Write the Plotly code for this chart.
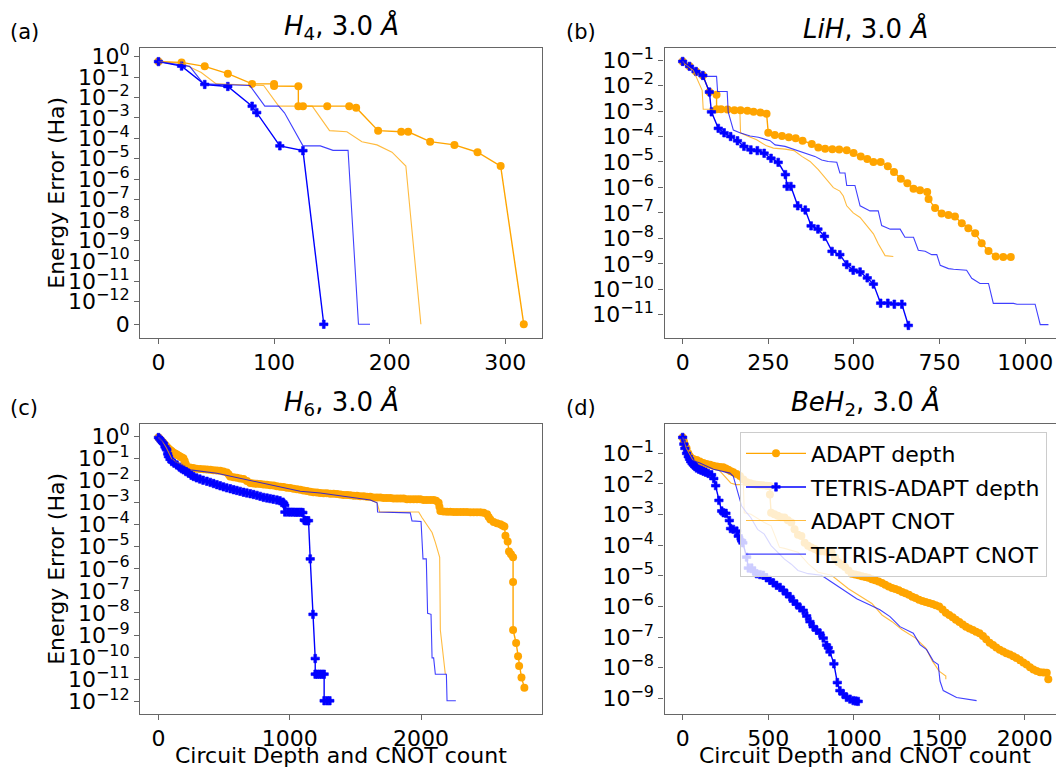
import math
import plotly.graph_objects as go

ORANGE = "#ffa500"
BLUE = "#0000ff"
FONT = "DejaVu Sans"
W, H = 1056, 768

# ---------------- (a) H4, 3.0 A ----------------
A_ADAPT_DEPTH_X = [0, 20, 40, 60, 81, 100, 100, 121, 121, 125, 146, 165, 171, 190, 210, 216, 235, 256, 276, 296, 316]
A_ADAPT_DEPTH_Y = [0.58, 0.53, 0.34, 0.149, 0.047, 0.047, 0.037, 0.036, 0.0038, 0.0038, 0.0038, 0.0038, 0.0032,
                   2.4e-4, 2.1e-4, 2.1e-4, 6.9e-5, 4.8e-5, 2.1e-5, 4.4e-6, 0]
A_TETRIS_DEPTH_X = [0, 20, 40, 60, 81, 85, 105, 125, 143]
A_TETRIS_DEPTH_Y = [0.58, 0.35, 0.044, 0.035, 0.0038, 0.00184, 4.3e-5, 2.5e-5, 0]
A_ADAPT_CNOT_X = [0, 20, 37, 50, 91, 104, 133, 148, 163, 176, 189, 202, 214, 227]
A_ADAPT_CNOT_Y = [0.58, 0.49, 0.17, 0.047, 0.039, 0.0038, 0.0038, 2.4e-4, 2.1e-4, 6.9e-5, 4.8e-5, 2.1e-5, 4.4e-6, 0]
A_TETRIS_CNOT_X = [0, 27, 39, 79, 92, 104, 109, 125, 140, 151, 164, 173, 183]
A_TETRIS_CNOT_Y = [0.58, 0.34, 0.047, 0.039, 0.0038, 0.0038, 0.0018, 4.3e-5, 4.3e-5, 2.6e-5, 2.6e-5, 0, 0]

# ---------------- (b) LiH, 3.0 A ----------------
B_ADAPT_DEPTH_X = [0, 20, 39, 59, 78, 99, 99, 112, 131, 151, 169, 189, 207, 227, 245, 250, 269, 290, 310, 330,
                   350, 377, 396, 416, 437, 457, 479, 499, 520, 539, 557, 578, 599, 617, 637, 656, 674, 693, 714,
                   718, 737, 756, 776, 795, 815, 834, 854, 873, 893, 914, 936, 958]
B_ADAPT_DEPTH_Y = [0.089, 0.057, 0.036, 0.025, 0.0056, 0.0044, 0.00117, 0.00117, 0.00115, 0.00107, 0.00107, 0.00102,
                   9.3e-4, 8.7e-4, 7.9e-4, 1.4e-4, 1.15e-4, 1.05e-4, 9.3e-5, 8.5e-5, 6.9e-5, 5.1e-5, 3.7e-5, 3.3e-5,
                   3.2e-5, 3.1e-5, 2.9e-5, 2.25e-5, 1.66e-5, 1.3e-5, 1.0e-5, 1.0e-5, 6.8e-6, 4.0e-6, 2.2e-6, 1.45e-6,
                   8.9e-7, 7.7e-7, 6.6e-7, 3.5e-7, 1.55e-7, 9.5e-8, 8.2e-8, 7.2e-8, 3.9e-8, 2.5e-8, 1.6e-8, 6.5e-9,
                   3.2e-9, 1.95e-9, 1.86e-9, 1.86e-9]
B_TETRIS_DEPTH_X = [0, 20, 39, 59, 78, 84, 104, 121, 140, 160, 179, 199, 218, 238, 258, 279, 300, 305, 316, 336,
                    358, 375, 395, 414, 436, 459, 479, 498, 518, 539, 557, 578, 599, 618, 640, 659]
B_TETRIS_DEPTH_Y = [0.089, 0.057, 0.036, 0.025, 0.0056, 9.3e-4, 2.1e-4, 1.4e-4, 1.0e-4, 6.8e-5, 4.1e-5, 3.0e-5,
                    2.8e-5, 2.2e-5, 1.4e-5, 9.7e-6, 3.2e-6, 1.1e-6, 1.1e-6, 1.9e-7, 1.3e-7, 3.1e-8, 2.3e-8, 1.2e-8,
                    3.1e-9, 2.3e-9, 9.3e-10, 5.6e-10, 4.8e-10, 2.8e-10, 1.6e-10, 2.85e-11, 2.85e-11, 2.6e-11,
                    2.6e-11, 3.8e-12]
B_ADAPT_CNOT_X = [0, 8, 31, 57, 60, 85, 167, 169, 189, 216, 245, 265, 299, 325, 348, 372, 396, 416, 440, 459, 469,
                  479, 498, 518, 537, 557, 571, 591, 615]
B_ADAPT_CNOT_Y = [0.089, 0.07, 0.04, 0.0065, 0.00118, 0.00118, 0.00107, 1.4e-4, 1.05e-4, 7.4e-5, 4.3e-5, 3.5e-5,
                  3.2e-5, 2.8e-5, 1.66e-5, 1.05e-5, 5.0e-6, 2.4e-6, 9.8e-7, 7.2e-7, 4.6e-7, 1.9e-7, 1.0e-7, 6.6e-8,
                  3.1e-8, 1.5e-8, 6.1e-9, 2.1e-9, 1.95e-9]
B_TETRIS_CNOT_X = [0, 60, 99, 102, 130, 133, 148, 167, 197, 221, 255, 270, 299, 323, 348, 372, 386, 406, 425, 450,
                   459, 474, 479, 503, 518, 547, 571, 581, 606, 635, 649, 674, 688, 708, 727, 742, 752, 776, 791,
                   829, 844, 868, 893, 907, 966, 976, 1029, 1044, 1068]
B_TETRIS_CNOT_Y = [0.089, 0.023, 0.023, 0.0059, 0.0059, 9.3e-4, 1.8e-4, 1.4e-4, 1.05e-4, 9.3e-5, 6.9e-5, 4.7e-5,
                   4.1e-5, 3.2e-5, 2.6e-5, 1.9e-5, 1.66e-5, 1.2e-5, 1.05e-5, 9.7e-6, 3.7e-6, 3.7e-6, 1.2e-6, 1.2e-6,
                   1.9e-7, 1.2e-7, 1.2e-7, 3.2e-8, 2.3e-8, 2.3e-8, 1.1e-8, 1.1e-8, 3.4e-9, 3.1e-9, 2.3e-9, 2.3e-9,
                   8.7e-10, 6.5e-10, 6.1e-10, 5.6e-10, 2.7e-10, 1.7e-10, 1.7e-10, 2.8e-11, 2.8e-11, 2.6e-11,
                   2.6e-11, 4.1e-12, 4.1e-12]

# ---------------- (c) H6, 3.0 A ----------------
C_ADAPT_DEPTH_X = [0, 12, 25, 38, 52, 64, 76, 90, 102, 114, 127, 140, 152, 165, 178, 190, 200, 208, 216, 240,
                   265, 290, 318, 345, 370, 395, 420, 445, 470, 495, 521, 534, 546, 572, 597, 622, 648, 674, 699, 725,
                   750, 776, 801, 826, 852, 877, 902, 928, 953, 978, 1004, 1029, 1055, 1080, 1105, 1131, 1156, 1181,
                   1207, 1232, 1258, 1283, 1309, 1334, 1360, 1385, 1410, 1436, 1461, 1487, 1512, 1537, 1563, 1588,
                   1613, 1639, 1664, 1690, 1715, 1740, 1766, 1791, 1817, 1842, 1867, 1893, 1918, 1944, 1969, 1994,
                   2020, 2045, 2071, 2096, 2115, 2134, 2140, 2147, 2172, 2198, 2223, 2249, 2274, 2300, 2325, 2350,
                   2376, 2401, 2426, 2452, 2477, 2503, 2515, 2528, 2553, 2578, 2604, 2620, 2635, 2643, 2660, 2670,
                   2685, 2701, 2701, 2701, 2724, 2739, 2747, 2765, 2787]
C_ADAPT_DEPTH_Y = [0.87, 0.72, 0.6, 0.5, 0.4, 0.33, 0.28, 0.24, 0.21, 0.18, 0.165, 0.15, 0.135, 0.12, 0.11, 0.1,
                   0.075, 0.055, 0.04, 0.038, 0.036, 0.034, 0.033, 0.032, 0.031, 0.03, 0.029, 0.028, 0.027, 0.025,
                   0.023, 0.019, 0.015, 0.014, 0.013, 0.0122, 0.0115, 0.0095, 0.0076, 0.0073, 0.007, 0.0068, 0.0066,
                   0.0064, 0.0061, 0.0058, 0.0055, 0.0052, 0.005, 0.0047, 0.0045, 0.0042, 0.004, 0.0038, 0.0035,
                   0.0033, 0.0031, 0.0029, 0.0028, 0.0027, 0.0026, 0.0026, 0.0025, 0.0025, 0.0024, 0.0023, 0.0022,
                   0.0022, 0.0021, 0.002, 0.002, 0.0019, 0.0019, 0.0018, 0.0018, 0.0017, 0.0017, 0.0017, 0.0016,
                   0.0016, 0.0016, 0.0015, 0.0015, 0.0015, 0.0015, 0.0014, 0.0014, 0.0014, 0.0014, 0.0014, 0.0013,
                   0.0013, 0.0013, 0.0013, 0.0012, 9.7e-4, 6.5e-4, 4.1e-4, 3.9e-4, 3.8e-4, 3.8e-4, 3.7e-4, 3.7e-4,
                   3.7e-4, 3.7e-4, 3.7e-4, 3.6e-4, 3.6e-4, 3.6e-4, 3.6e-4, 3.4e-4, 2.9e-4, 2.2e-4, 1.7e-4, 1.3e-4,
                   1.15e-4, 1.03e-4, 9.2e-5, 8.1e-5, 3.1e-5, 1.7e-5, 6e-6, 4.5e-6, 3.3e-6, 2.5e-7, 1.7e-9, 4.4e-10,
                   1.1e-10, 4.0e-11, 1.2e-11, 4.2e-12]
C_TETRIS_DEPTH_X = [0, 10, 20, 30, 38, 50, 58, 64, 70, 76, 88, 102, 120, 140, 160, 175, 191, 210, 230, 250, 267,
                    290, 315, 340, 369, 395, 420, 445, 470, 495, 520, 547, 572, 597, 622, 648, 673, 699, 724, 750,
                    775, 800, 826, 850, 875, 902, 925, 948, 955, 962, 963, 985, 1005, 1025, 1045, 1065, 1085, 1100,
                    1110, 1118, 1130, 1143, 1156, 1177, 1194, 1194, 1210, 1228, 1245, 1262, 1262, 1285, 1305]
C_TETRIS_DEPTH_Y = [0.87, 0.75, 0.62, 0.53, 0.47, 0.33, 0.27, 0.24, 0.16, 0.12, 0.09, 0.071, 0.06, 0.05, 0.04,
                    0.034, 0.03, 0.025, 0.021, 0.017, 0.015, 0.013, 0.0115, 0.0102, 0.0091, 0.0081, 0.0072, 0.0064,
                    0.0057, 0.0051, 0.0046, 0.0042, 0.0038, 0.0035, 0.0032, 0.0029, 0.0027, 0.0025, 0.0023, 0.0021,
                    0.0019, 0.0017, 0.0016, 0.0015, 0.0014, 0.0013, 0.0012, 0.00104, 9e-4, 7.4e-4, 3.7e-4, 3.7e-4,
                    3.65e-4, 3.65e-4, 3.6e-4, 3.6e-4, 3.6e-4, 3.5e-4, 1.6e-4, 1.5e-4, 1.5e-4, 1.5e-4, 2.8e-6, 8.7e-9,
                    8.7e-11, 1.7e-11, 1.7e-11, 1.7e-11, 1.7e-11, 1.7e-11, 1.07e-12, 1.07e-12, 1.07e-12]
C_ADAPT_CNOT_X = [0, 30, 60, 100, 130, 200, 300, 420, 520, 560, 650, 700, 800, 900, 1000, 1080, 1334, 1588, 1665,
                  1685, 1982, 2007, 2045, 2084, 2109, 2142, 2147, 2168, 2185]
C_ADAPT_CNOT_Y = [0.87, 0.6, 0.3, 0.1, 0.07, 0.045, 0.035, 0.03, 0.025, 0.016, 0.012, 0.009, 0.007, 0.0055, 0.0042,
                  0.0029, 0.0019, 0.0015, 9.7e-4, 3.7e-4, 3.7e-4, 2.1e-4, 1.03e-4, 4.4e-5, 1.56e-5, 3.3e-6, 1.7e-9,
                  1.3e-10, 1.7e-11]
C_TETRIS_CNOT_X = [0, 40, 70, 100, 110, 150, 242, 445, 699, 953, 1080, 1232, 1614, 1665, 1669, 1918, 1931, 2000,
                   2015, 2040, 2050, 2076, 2084, 2096, 2109, 2193, 2198, 2265]
C_TETRIS_CNOT_Y = [0.87, 0.55, 0.35, 0.15, 0.08, 0.06, 0.03, 0.021, 0.01, 0.0049, 0.0032, 0.0027, 0.0013, 9.7e-4,
                   3.7e-4, 3.4e-4, 1.47e-4, 1.37e-4, 2.8e-6, 2.8e-6, 9.7e-9, 8.7e-9, 9.3e-11, 9.3e-11, 1.7e-11,
                   1.7e-11, 1.07e-12, 1.07e-12]

# ---------------- (d) BeH2, 3.0 A ----------------
D_ADAPT_DEPTH_X = [0, 8, 15, 23, 33, 42, 52, 65, 82, 100, 121, 140, 160, 179, 200, 218, 237, 252, 267, 282, 296,
                   315, 335, 355, 374, 395, 415, 432, 450, 470, 491, 510, 510, 517, 536, 556, 575, 595, 615, 635,
                   654, 674, 694, 713, 733, 752, 772, 792, 811, 831, 851, 870, 890, 910, 930, 949, 969, 988, 1008,
                   1027, 1047, 1067, 1086, 1106, 1125, 1145, 1165, 1184, 1204, 1224, 1243, 1263, 1283, 1302, 1322,
                   1342, 1361, 1381, 1401, 1420, 1440, 1460, 1479, 1499, 1519, 1538, 1558, 1578, 1597, 1617, 1637,
                   1656, 1676, 1696, 1715, 1735, 1755, 1774, 1794, 1814, 1833, 1853, 1873, 1892, 1912, 1932, 1951,
                   1971, 1991, 2010, 2030, 2050, 2069, 2089, 2109, 2128, 2137]
D_ADAPT_DEPTH_Y = [0.33, 0.24, 0.18, 0.145, 0.1, 0.08, 0.069, 0.064, 0.06, 0.054, 0.048, 0.045, 0.042, 0.039,
                   0.037, 0.036, 0.035, 0.032, 0.029, 0.026, 0.024, 0.021, 0.018, 0.014, 0.0113, 0.0105, 0.0098,
                   0.0095, 0.0092, 0.009, 0.0088, 0.0085, 0.0045, 0.00115, 0.00103, 9.1e-4, 8.2e-4, 8.0e-4, 6.5e-4,
                   5.5e-4, 3.3e-4, 2.2e-4, 2.0e-4, 1.2e-4, 9.7e-5, 8.5e-5, 7.5e-5, 6.6e-5, 6.4e-5, 6.3e-5, 6.0e-5,
                   5.9e-5, 4.0e-5, 2.8e-5, 2.3e-5, 1.95e-5, 1.5e-5, 1.18e-5, 1.1e-5, 1.05e-5, 9.8e-6, 9.1e-6,
                   8.6e-6, 7.8e-6, 7.2e-6, 6.6e-6, 5.9e-6, 5.1e-6, 4.5e-6, 4.0e-6, 3.7e-6, 3.4e-6, 3.0e-6, 2.7e-6,
                   2.4e-6, 2.1e-6, 1.9e-6, 1.65e-6, 1.5e-6, 1.4e-6, 1.3e-6, 1.2e-6, 1.1e-6, 1.0e-6, 8.0e-7, 6.3e-7,
                   5.3e-7, 4.5e-7, 3.7e-7, 3.1e-7, 2.6e-7, 2.2e-7, 1.9e-7, 1.7e-7, 1.5e-7, 1.35e-7, 1.1e-7, 8.5e-8,
                   6.6e-8, 5.5e-8, 4.6e-8, 3.9e-8, 3.4e-8, 3.0e-8, 2.7e-8, 2.4e-8, 2.1e-8, 1.8e-8, 1.5e-8, 1.28e-8,
                   1.05e-8, 8.8e-9, 7.8e-9, 7.2e-9, 7.0e-9, 6.9e-9, 4.2e-9]
D_TETRIS_DEPTH_X = [0, 7, 13, 23, 33, 40, 47, 55, 62, 72, 82, 95, 108, 121, 135, 150, 169, 182, 193, 212, 228,
                    238, 253, 273, 280, 296, 316, 325, 345, 352, 374, 384, 403, 418, 432, 452, 471, 490, 510, 530,
                    549, 569, 588, 608, 627, 647, 666, 686, 705, 725, 744, 763, 783, 802, 822, 841, 851, 861, 884,
                    904, 919, 938, 958, 978, 997, 1012, 1026]
D_TETRIS_DEPTH_Y = [0.33, 0.2, 0.145, 0.1, 0.078, 0.065, 0.054, 0.047, 0.042, 0.037, 0.033, 0.03, 0.028, 0.026,
                    0.024, 0.022, 0.02, 0.015, 0.0088, 0.0029, 0.00131, 0.00115, 0.0011, 6.4e-4, 3.5e-4, 3.3e-4,
                    2.9e-4, 2.0e-4, 1.4e-4, 1.2e-4, 4.1e-5, 1.8e-5, 1.8e-5, 1.4e-5, 1.18e-5, 1.1e-5, 1.05e-5, 8.7e-6,
                    7.2e-6, 5.9e-6, 4.9e-6, 4.2e-6, 3.4e-6, 2.6e-6, 2.1e-6, 1.5e-6, 1.2e-6, 9e-7, 7.5e-7, 4.9e-7,
                    3.2e-7, 2.2e-7, 1.7e-7, 1.35e-7, 9.3e-8, 5.5e-8, 4.5e-8, 3.3e-8, 1.35e-8, 3.3e-9, 1.8e-9, 1.4e-9,
                    1.08e-9, 9.5e-10, 8.5e-10, 8.2e-10, 8.0e-10]
D_ADAPT_CNOT_X = [0, 20, 60, 120, 202, 281, 310, 355, 360, 399, 477, 517, 566, 595, 674, 733, 792, 870, 969, 1067,
                  1106, 1165, 1224, 1283, 1361, 1420, 1460, 1499, 1538, 1538]
D_ADAPT_CNOT_Y = [0.33, 0.15, 0.06, 0.045, 0.033, 0.0108, 0.0095, 0.0095, 0.00115, 0.00103, 5.5e-4, 4.3e-4,
                  8.5e-5, 7.9e-5, 5.9e-5, 2.5e-5, 1.32e-5, 1.05e-5, 3.8e-6, 1.8e-6, 1.26e-6, 5.3e-7, 3.2e-7,
                  1.74e-7, 9.3e-8, 4.5e-8, 1.65e-8, 7.8e-9, 5.4e-9, 4.2e-9]
D_TETRIS_CNOT_X = [0, 15, 50, 101, 180, 276, 296, 325, 345, 374, 399, 438, 477, 517, 556, 595, 635, 674, 733, 811,
                   870, 958, 1017, 1095, 1153, 1212, 1270, 1348, 1387, 1426, 1465, 1494, 1504, 1523, 1601, 1718]
D_TETRIS_CNOT_Y = [0.33, 0.14, 0.06, 0.048, 0.03, 0.0226, 0.0177, 0.0045, 0.0019, 0.00115, 7.9e-4, 3.3e-4,
                   2.3e-4, 9.7e-5, 5.9e-5, 3.5e-5, 2.4e-5, 1.5e-5, 1.18e-5, 1.05e-5, 6.3e-6, 3.0e-6, 1.8e-6,
                   1.12e-6, 7.8e-7, 4.7e-7, 2.2e-7, 1.35e-7, 5.7e-8, 3.9e-8, 1.65e-8, 1.28e-8, 3.7e-9, 1.8e-9,
                   1.07e-9, 8.5e-10]

SERIES_NAMES = ["ADAPT depth", "TETRIS-ADAPT depth", "ADAPT CNOT", "TETRIS-ADAPT CNOT"]

# symmetric-log scale used on the H4 panel (linear below 1e-12 so that 0 fits)
LINTHRESH = 1e-12
LIN_DECADES = 1.0 / (1.0 - 0.1)


def symlog(values):
    out = []
    for v in values:
        if v >= LINTHRESH:
            out.append(math.log10(v))
        else:
            out.append(math.log10(LINTHRESH) - LIN_DECADES * (1.0 - v / LINTHRESH))
    return out


def pow_label(k):
    exp = str(k).replace("-", "\u2212")
    return "10<sup><span style='font-size:16px'>%s</span></sup>" % exp


panels = [
    dict(key="", series=[(A_ADAPT_DEPTH_X, A_ADAPT_DEPTH_Y), (A_TETRIS_DEPTH_X, A_TETRIS_DEPTH_Y),
                         (A_ADAPT_CNOT_X, A_ADAPT_CNOT_Y), (A_TETRIS_CNOT_X, A_TETRIS_CNOT_Y)], symlog=True),
    dict(key="2", series=[(B_ADAPT_DEPTH_X, B_ADAPT_DEPTH_Y), (B_TETRIS_DEPTH_X, B_TETRIS_DEPTH_Y),
                          (B_ADAPT_CNOT_X, B_ADAPT_CNOT_Y), (B_TETRIS_CNOT_X, B_TETRIS_CNOT_Y)], symlog=False),
    dict(key="3", series=[(C_ADAPT_DEPTH_X, C_ADAPT_DEPTH_Y), (C_TETRIS_DEPTH_X, C_TETRIS_DEPTH_Y),
                          (C_ADAPT_CNOT_X, C_ADAPT_CNOT_Y), (C_TETRIS_CNOT_X, C_TETRIS_CNOT_Y)], symlog=False),
    dict(key="4", series=[(D_ADAPT_DEPTH_X, D_ADAPT_DEPTH_Y), (D_TETRIS_DEPTH_X, D_TETRIS_DEPTH_Y),
                          (D_ADAPT_CNOT_X, D_ADAPT_CNOT_Y), (D_TETRIS_CNOT_X, D_TETRIS_CNOT_Y)], symlog=False),
]

styles = [
    dict(mode="lines+markers", line=dict(color=ORANGE, width=1.4),
         marker=dict(symbol="circle", size=8, color=ORANGE, line=dict(width=0)), opacity=1.0),
    dict(mode="lines+markers", line=dict(color=BLUE, width=1.4),
         marker=dict(symbol="cross", size=7, color=BLUE, line=dict(width=0.6, color=BLUE)), opacity=1.0),
    dict(mode="lines", line=dict(color=ORANGE, width=1.1), opacity=0.75),
    dict(mode="lines", line=dict(color=BLUE, width=1.1), opacity=0.75),
]

fig = go.Figure()
for pi, p in enumerate(panels):
    for si, (xs, ys) in enumerate(p["series"]):
        yv = symlog(ys) if p["symlog"] else ys
        fig.add_trace(go.Scatter(
            x=xs, y=yv, name=SERIES_NAMES[si],
            xaxis="x" + p["key"], yaxis="y" + p["key"],
            showlegend=(pi == 3), legendgroup=SERIES_NAMES[si],
            **styles[si]))


def px_x(v):
    return v / W


def px_y(v):
    return 1 - v / H


LEFT_DOM = [px_x(140.2), px_x(541.7)]
RIGHT_DOM = [px_x(664.5), 1.0]
TOP_DOM = [px_y(333.3), px_y(40.7)]
BOT_DOM = [px_y(713.3), px_y(420.7)]

SPINE = "#666666"
axis_common = dict(showline=True, linecolor=SPINE, linewidth=1.2, ticks="outside", ticklen=5, tickwidth=1.2,
                   tickcolor=SPINE, showgrid=False, zeroline=False,
                   tickfont=dict(family=FONT, size=22, color="black"))
x_common = dict(axis_common, mirror=True)

a_ticks = list(range(0, -13, -1))
a_tickvals = a_ticks + symlog([0])
a_ticktext = [pow_label(k) for k in a_ticks] + ["0"]

b_ticks = list(range(-1, -12, -1))
c_ticks = list(range(0, -13, -1))
d_ticks = list(range(-1, -10, -1))

fig.update_layout(
    width=W, height=H, margin=dict(l=0, r=0, t=0, b=0),
    paper_bgcolor="white", plot_bgcolor="white",
    font=dict(family=FONT, color="black"),
    xaxis=dict(domain=LEFT_DOM, anchor="y", range=[-15.8, 331.5], tickvals=[0, 100, 200, 300], **x_common),
    yaxis=dict(domain=TOP_DOM, anchor="x", range=[-13.775, 0.417], tickvals=a_tickvals, ticktext=a_ticktext,
               mirror=True, **axis_common),
    xaxis2=dict(domain=RIGHT_DOM, anchor="y2", range=[-53, 1090], tickvals=[0, 250, 500, 750, 1000], **x_common),
    yaxis2=dict(domain=TOP_DOM, anchor="x2", type="log", range=[-11.906, -0.534],
                tickvals=[10.0 ** k for k in b_ticks], ticktext=[pow_label(k) for k in b_ticks], mirror=False,
                **axis_common),
    xaxis3=dict(domain=LEFT_DOM, anchor="y3", range=[-139, 2919], tickvals=[0, 1000, 2000], **x_common),
    yaxis3=dict(domain=BOT_DOM, anchor="x3", type="log", range=[-12.564, 0.537],
                tickvals=[10.0 ** k for k in c_ticks], ticktext=[pow_label(k) for k in c_ticks], mirror=True,
                **axis_common),
    xaxis4=dict(domain=RIGHT_DOM, anchor="y4", range=[-106, 2182], tickvals=[0, 500, 1000, 1500, 2000],
                **x_common),
    yaxis4=dict(domain=BOT_DOM, anchor="x4", type="log", range=[-9.504, -0.054],
                tickvals=[10.0 ** k for k in d_ticks], ticktext=[pow_label(k) for k in d_ticks], mirror=False,
                **axis_common),
    legend=dict(x=px_x(740), y=px_y(428), xanchor="left", yanchor="top",
                bgcolor="rgba(255,255,255,0.8)", bordercolor="#cccccc", borderwidth=1,
                font=dict(family=FONT, size=22, color="black"), traceorder="grouped", tracegroupgap=2,
                itemwidth=60),
)

annotations = []
# panel letters
for label, x, y in [("(a)", 8, 24), ("(b)", 564, 24), ("(c)", 8, 404), ("(d)", 564, 404)]:
    annotations.append(dict(text=label, x=px_x(x), y=px_y(y), xref="paper", yref="paper", xanchor="left",
                            yanchor="middle", showarrow=False, font=dict(family=FONT, size=21)))
# subplot titles
titles = [
    ("<i>H</i><sub>4</sub>, 3.0 <i>\u00c5</i>", 341, 40.7),
    ("<i>LiH</i>, 3.0 <i>\u00c5</i>", 865, 40.7),
    ("<i>H</i><sub>6</sub>, 3.0 <i>\u00c5</i>", 341, 420.7),
    ("<i>BeH</i><sub>2</sub>, 3.0 <i>\u00c5</i>", 865, 420.7),
]
for text, x, y in titles:
    annotations.append(dict(text=text, x=px_x(x), y=px_y(y), xref="paper", yref="paper", xanchor="center",
                            yanchor="bottom", yshift=2, showarrow=False, font=dict(family=FONT, size=26)))
# axis titles
for y in (187, 567):
    annotations.append(dict(text="Energy Error (Ha)", x=px_x(55.7), y=px_y(y), xref="paper", yref="paper",
                            xanchor="center", yanchor="middle", textangle=-90, showarrow=False,
                            font=dict(family=FONT, size=22)))
for x in (341, 865):
    annotations.append(dict(text="Circuit Depth and CNOT count", x=px_x(x), y=px_y(755), xref="paper",
                            yref="paper", xanchor="center", yanchor="middle", showarrow=False,
                            font=dict(family=FONT, size=22)))
fig.update_layout(annotations=annotations)

fig.write_html("out.html")
